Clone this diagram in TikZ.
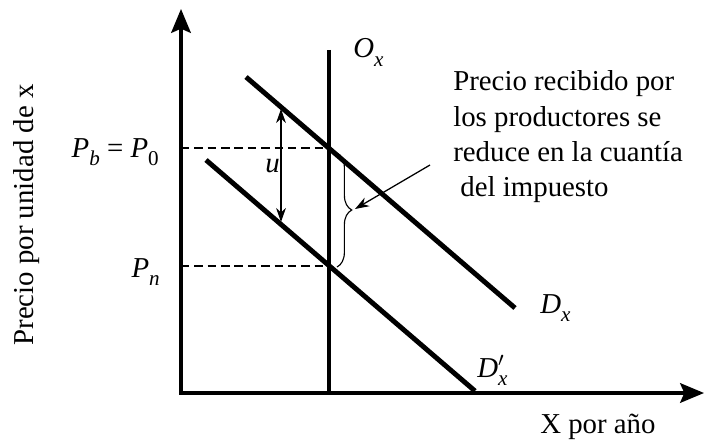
\documentclass[tikz,border=0pt]{standalone}
\usepackage{fontspec}
\setmainfont{Liberation Serif}
\usetikzlibrary{arrows.meta, decorations.pathreplacing, positioning}
\newcommand{\symb}[2]{\textit{#1}\raisebox{-0.3em}{\fontsize{15}{15}\selectfont #2}}

\begin{document}
\begin{tikzpicture}[x=0.025cm, y=-0.025cm,
  axis/.style={line width=2.2pt, line join=miter, {Stealth[length=17pt, width=14pt, inset=3pt]}-{Stealth[length=17pt, width=14pt, inset=3pt]}},
  curve/.style={line width=3.5pt},
  guide/.style={line width=1pt, dash pattern=on 6pt off 3.5pt},
  thinarrow/.style={line width=0.9pt, -{Stealth[length=10pt, width=7pt]}},
  lbl/.style={inner sep=0pt, font=\fontsize{20.5}{25}\selectfont}
]
  \useasboundingbox (0,0) rectangle (708,440);
  \coordinate (O) at (181,393);
  \coordinate (ytop) at (181,9);
  \coordinate (xend) at (704,393);
  \coordinate (s0) at (329,50);
  \coordinate (s1) at (329,393);
  \coordinate (d0) at (246,77);
  \coordinate (d1) at (515,308);
  \coordinate (e0) at (206,160);
  \coordinate (e1) at (475,391);
  \coordinate (pb) at (181,148);
  \coordinate (q0) at (329,148);
  \coordinate (pn) at (181,266);
  \coordinate (q1) at (329,266);
  \coordinate (u0) at (281,109);
  \coordinate (u1) at (281,222);
  \coordinate (b0) at (337,153);
  \coordinate (b1) at (337,267);
  \coordinate (btip) at (355,209);
  \coordinate (tail) at (430,165);

  \draw[axis] (ytop) -- (O) -- (xend);
  \draw[curve] (s0) -- (s1);
  \draw[curve] (d0) -- (d1);
  \draw[curve] (e0) -- (e1);
  \draw[guide] (pb) -- (q0);
  \draw[guide] (pn) -- (q1);
  \draw[thinarrow, {Stealth[length=10pt, width=7pt]}-{Stealth[length=10pt, width=7pt]}] (u0) -- (u1);
  \draw[decorate, decoration={brace, amplitude=10.5pt}, line width=0.8pt] (b0) -- (b1);
  \draw[thinarrow] (tail) -- (btip);

  \node[lbl, anchor=base west] (ox) at (353,58) {\symb{O}{\textit{x}}};
  \node[lbl, anchor=base west] (dx) at (540,313) {\symb{D}{\textit{x}}};
  \node[lbl, anchor=base west] (dpx) at (477,377) {\textit{D}\rlap{$'$}\raisebox{-0.3em}{\fontsize{15}{15}\selectfont\textit{x}}};
  \node[lbl, anchor=base east] (pblbl) at (159,157) {\symb{P}{\textit{b}} = \symb{P}{0}};
  \node[lbl, anchor=base east] (pnlbl) at (160,277) {\symb{P}{\textit{n}}};
  \node[lbl, anchor=base west] (ulbl) at (265,172) {\textit{u}};
  \node[lbl, anchor=base west] (xlbl) at (540,433) {X por año};
  \node[lbl, rotate=90] (ylbl) at (27,215) {Precio por unidad de x};
  \node[lbl, anchor=north west] (note) at (453,66) {\begin{tabular}{@{}l@{}}Precio recibido por\\los productores se\\reduce en la cuantía\\\hspace*{0.25em}del impuesto\end{tabular}};
\end{tikzpicture}
\end{document}
